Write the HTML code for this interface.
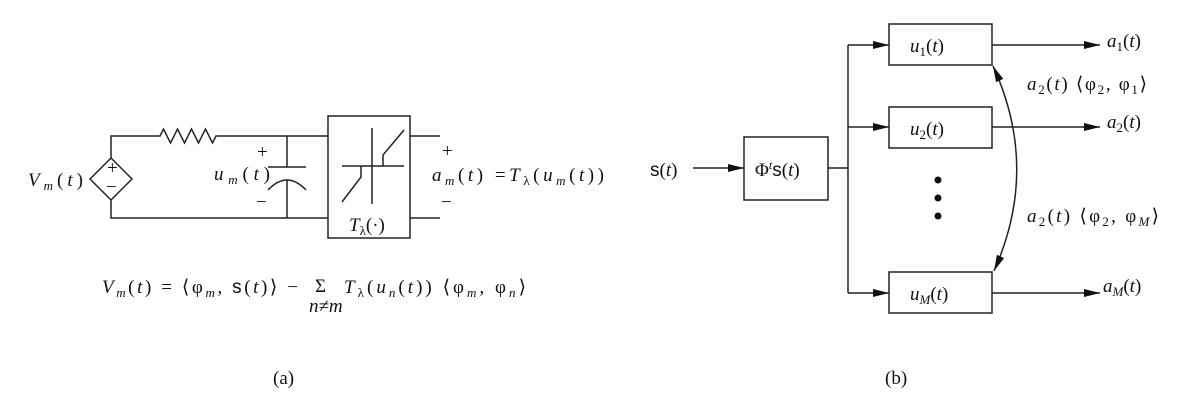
<!DOCTYPE html>
<html><head><meta charset="utf-8"><style>
html,body{margin:0;padding:0;background:#fff;}
svg{display:block;}
text{font-family:"Liberation Serif",serif;font-size:19px;fill:#111;}
.i{font-style:italic;}
.s{font-family:"Liberation Sans",sans-serif;font-style:normal;}
</style></head><body>
<svg width="1187" height="411" viewBox="0 0 1187 411" xmlns="http://www.w3.org/2000/svg">
<defs><marker id="ar" markerWidth="16" markerHeight="8" refX="16" refY="4" orient="auto-start-reverse" markerUnits="userSpaceOnUse"><path d="M0,0 L16,4 L0,8 z" fill="#111"/></marker></defs>
<g stroke="#222" stroke-width="1.5" fill="none">
<path d="M111,158 V136 H160 l3.5,-7 l7,14 l7,-14 l7,14 l7,-14 l7,14 l7,-14 l7,14 l3.5,-7 H328"/>
<path d="M111,200 V218 H328"/>
<path d="M111,158 L132,179 L111,200 L90,179 Z"/>
<path d="M287,136 V167 M268,167 H306 M287,180 V218"/>
<path d="M268,190 Q287,170 306,190"/>
<rect x="328" y="116" width="82" height="122"/>
<path d="M410,136 H440 M410,218 H440"/>
<path d="M372,128 V204 M342,166 H404 M342,202 L361,177 V166 M383,166 V155 L404,130"/>
<rect x="744" y="137" width="84" height="63"/>
<rect x="889" y="24" width="103" height="41"/>
<rect x="889" y="107" width="103" height="41"/>
<rect x="889" y="272" width="103" height="41"/>
<path d="M693,168 H744" marker-end="url(#ar)"/>
<path d="M828,168 H848 M848,45 V293"/>
<path d="M848,45 H889" marker-end="url(#ar)"/>
<path d="M848,127 H889" marker-end="url(#ar)"/>
<path d="M848,293 H889" marker-end="url(#ar)"/>
<path d="M992,45 H1100" marker-end="url(#ar)"/>
<path d="M992,127 H1100" marker-end="url(#ar)"/>
<path d="M992,293 H1100" marker-end="url(#ar)"/>
<path d="M993,66 Q1040,168 994,271" marker-start="url(#ar)" marker-end="url(#ar)"/>
</g>
<circle cx="938" cy="180" r="3.5" fill="#111"/>
<circle cx="938" cy="198" r="3.5" fill="#111"/>
<circle cx="938" cy="216" r="3.5" fill="#111"/>
<text font-size="12" x="107" y="174">+</text>
<text font-size="14" x="106" y="193">−</text>
<text x="28" y="186" textLength="55" lengthAdjust="spacing"><tspan class="i">V</tspan><tspan class="i" font-size="13" dy="4">m</tspan><tspan dy="-4">(</tspan><tspan class="i">t</tspan>)</text>
<text x="214" y="180" textLength="56" lengthAdjust="spacing"><tspan class="i">u</tspan><tspan class="i" font-size="13" dy="4">m</tspan><tspan dy="-4">(</tspan><tspan class="i">t</tspan>)</text>
<text font-size="12" x="257" y="158">+</text>
<text font-size="14" x="256" y="208">−</text>
<text font-size="12" x="442" y="157">+</text>
<text font-size="14" x="441" y="208">−</text>
<text x="432" y="181" textLength="172" lengthAdjust="spacing"><tspan class="i">a</tspan><tspan class="i" font-size="13" dy="4">m</tspan><tspan dy="-4">(</tspan><tspan class="i">t</tspan>) =<tspan class="i">T</tspan><tspan font-size="13" dy="4">λ</tspan><tspan dy="-4">(</tspan><tspan class="i">u</tspan><tspan class="i" font-size="13" dy="4">m</tspan><tspan dy="-4">(</tspan><tspan class="i">t</tspan>))</text>
<text x="349" y="231"><tspan class="i">T</tspan><tspan font-size="13" dy="4">λ</tspan><tspan dy="-4">(·)</tspan></text>
<text x="102" y="293" textLength="196" lengthAdjust="spacing"><tspan class="i">V</tspan><tspan class="i" font-size="13" dy="4">m</tspan><tspan dy="-4">(</tspan><tspan class="i">t</tspan>) = ⟨φ<tspan class="i" font-size="13" dy="4">m</tspan><tspan dy="-4">, </tspan><tspan class="s">s</tspan>(<tspan class="i">t</tspan>)⟩ −</text>
<text x="315" y="292" font-size="16">Σ</text>
<text x="309" y="312" font-size="13" class="i">n≠m</text>
<text x="344" y="293" textLength="182" lengthAdjust="spacing"><tspan class="i">T</tspan><tspan font-size="13" dy="4">λ</tspan><tspan dy="-4">(</tspan><tspan class="i">u</tspan><tspan class="i" font-size="13" dy="4">n</tspan><tspan dy="-4">(</tspan><tspan class="i">t</tspan>)) ⟨φ<tspan class="i" font-size="13" dy="4">m</tspan><tspan dy="-4">, φ</tspan><tspan class="i" font-size="13" dy="4">n</tspan><tspan dy="-4">⟩</tspan></text>
<text x="273" y="384" font-size="21">(a)</text>
<text x="885" y="384" font-size="21">(b)</text>
<text x="650" y="176"><tspan class="s">s</tspan>(<tspan class="i">t</tspan>)</text>
<text x="755" y="176">Φ<tspan class="i" font-size="12" dy="-7">t</tspan><tspan dy="7" class="s">s</tspan>(<tspan class="i">t</tspan>)</text>
<text x="910" y="52"><tspan class="i">u</tspan><tspan font-size="13" dy="4">1</tspan><tspan dy="-4">(</tspan><tspan class="i">t</tspan>)</text>
<text x="910" y="135"><tspan class="i">u</tspan><tspan font-size="13" dy="4">2</tspan><tspan dy="-4">(</tspan><tspan class="i">t</tspan>)</text>
<text x="910" y="300"><tspan class="i">u</tspan><tspan class="i" font-size="13" dy="4">M</tspan><tspan dy="-4">(</tspan><tspan class="i">t</tspan>)</text>
<text x="1107" y="47"><tspan class="i">a</tspan><tspan font-size="13" dy="4">1</tspan><tspan dy="-4">(</tspan><tspan class="i">t</tspan>)</text>
<text x="1107" y="128"><tspan class="i">a</tspan><tspan font-size="13" dy="4">2</tspan><tspan dy="-4">(</tspan><tspan class="i">t</tspan>)</text>
<text x="1103" y="292"><tspan class="i">a</tspan><tspan class="i" font-size="13" dy="4">M</tspan><tspan dy="-4">(</tspan><tspan class="i">t</tspan>)</text>
<text x="1027" y="90" textLength="120" lengthAdjust="spacing"><tspan class="i">a</tspan><tspan font-size="13" dy="4">2</tspan><tspan dy="-4">(</tspan><tspan class="i">t</tspan>) ⟨φ<tspan font-size="13" dy="4">2</tspan><tspan dy="-4">, φ</tspan><tspan font-size="13" dy="4">1</tspan><tspan dy="-4">⟩</tspan></text>
<text x="1027" y="222" textLength="132" lengthAdjust="spacing"><tspan class="i">a</tspan><tspan font-size="13" dy="4">2</tspan><tspan dy="-4">(</tspan><tspan class="i">t</tspan>) ⟨φ<tspan font-size="13" dy="4">2</tspan><tspan dy="-4">, φ</tspan><tspan class="i" font-size="13" dy="4">M</tspan><tspan dy="-4">⟩</tspan></text>
</svg>
</body></html>
